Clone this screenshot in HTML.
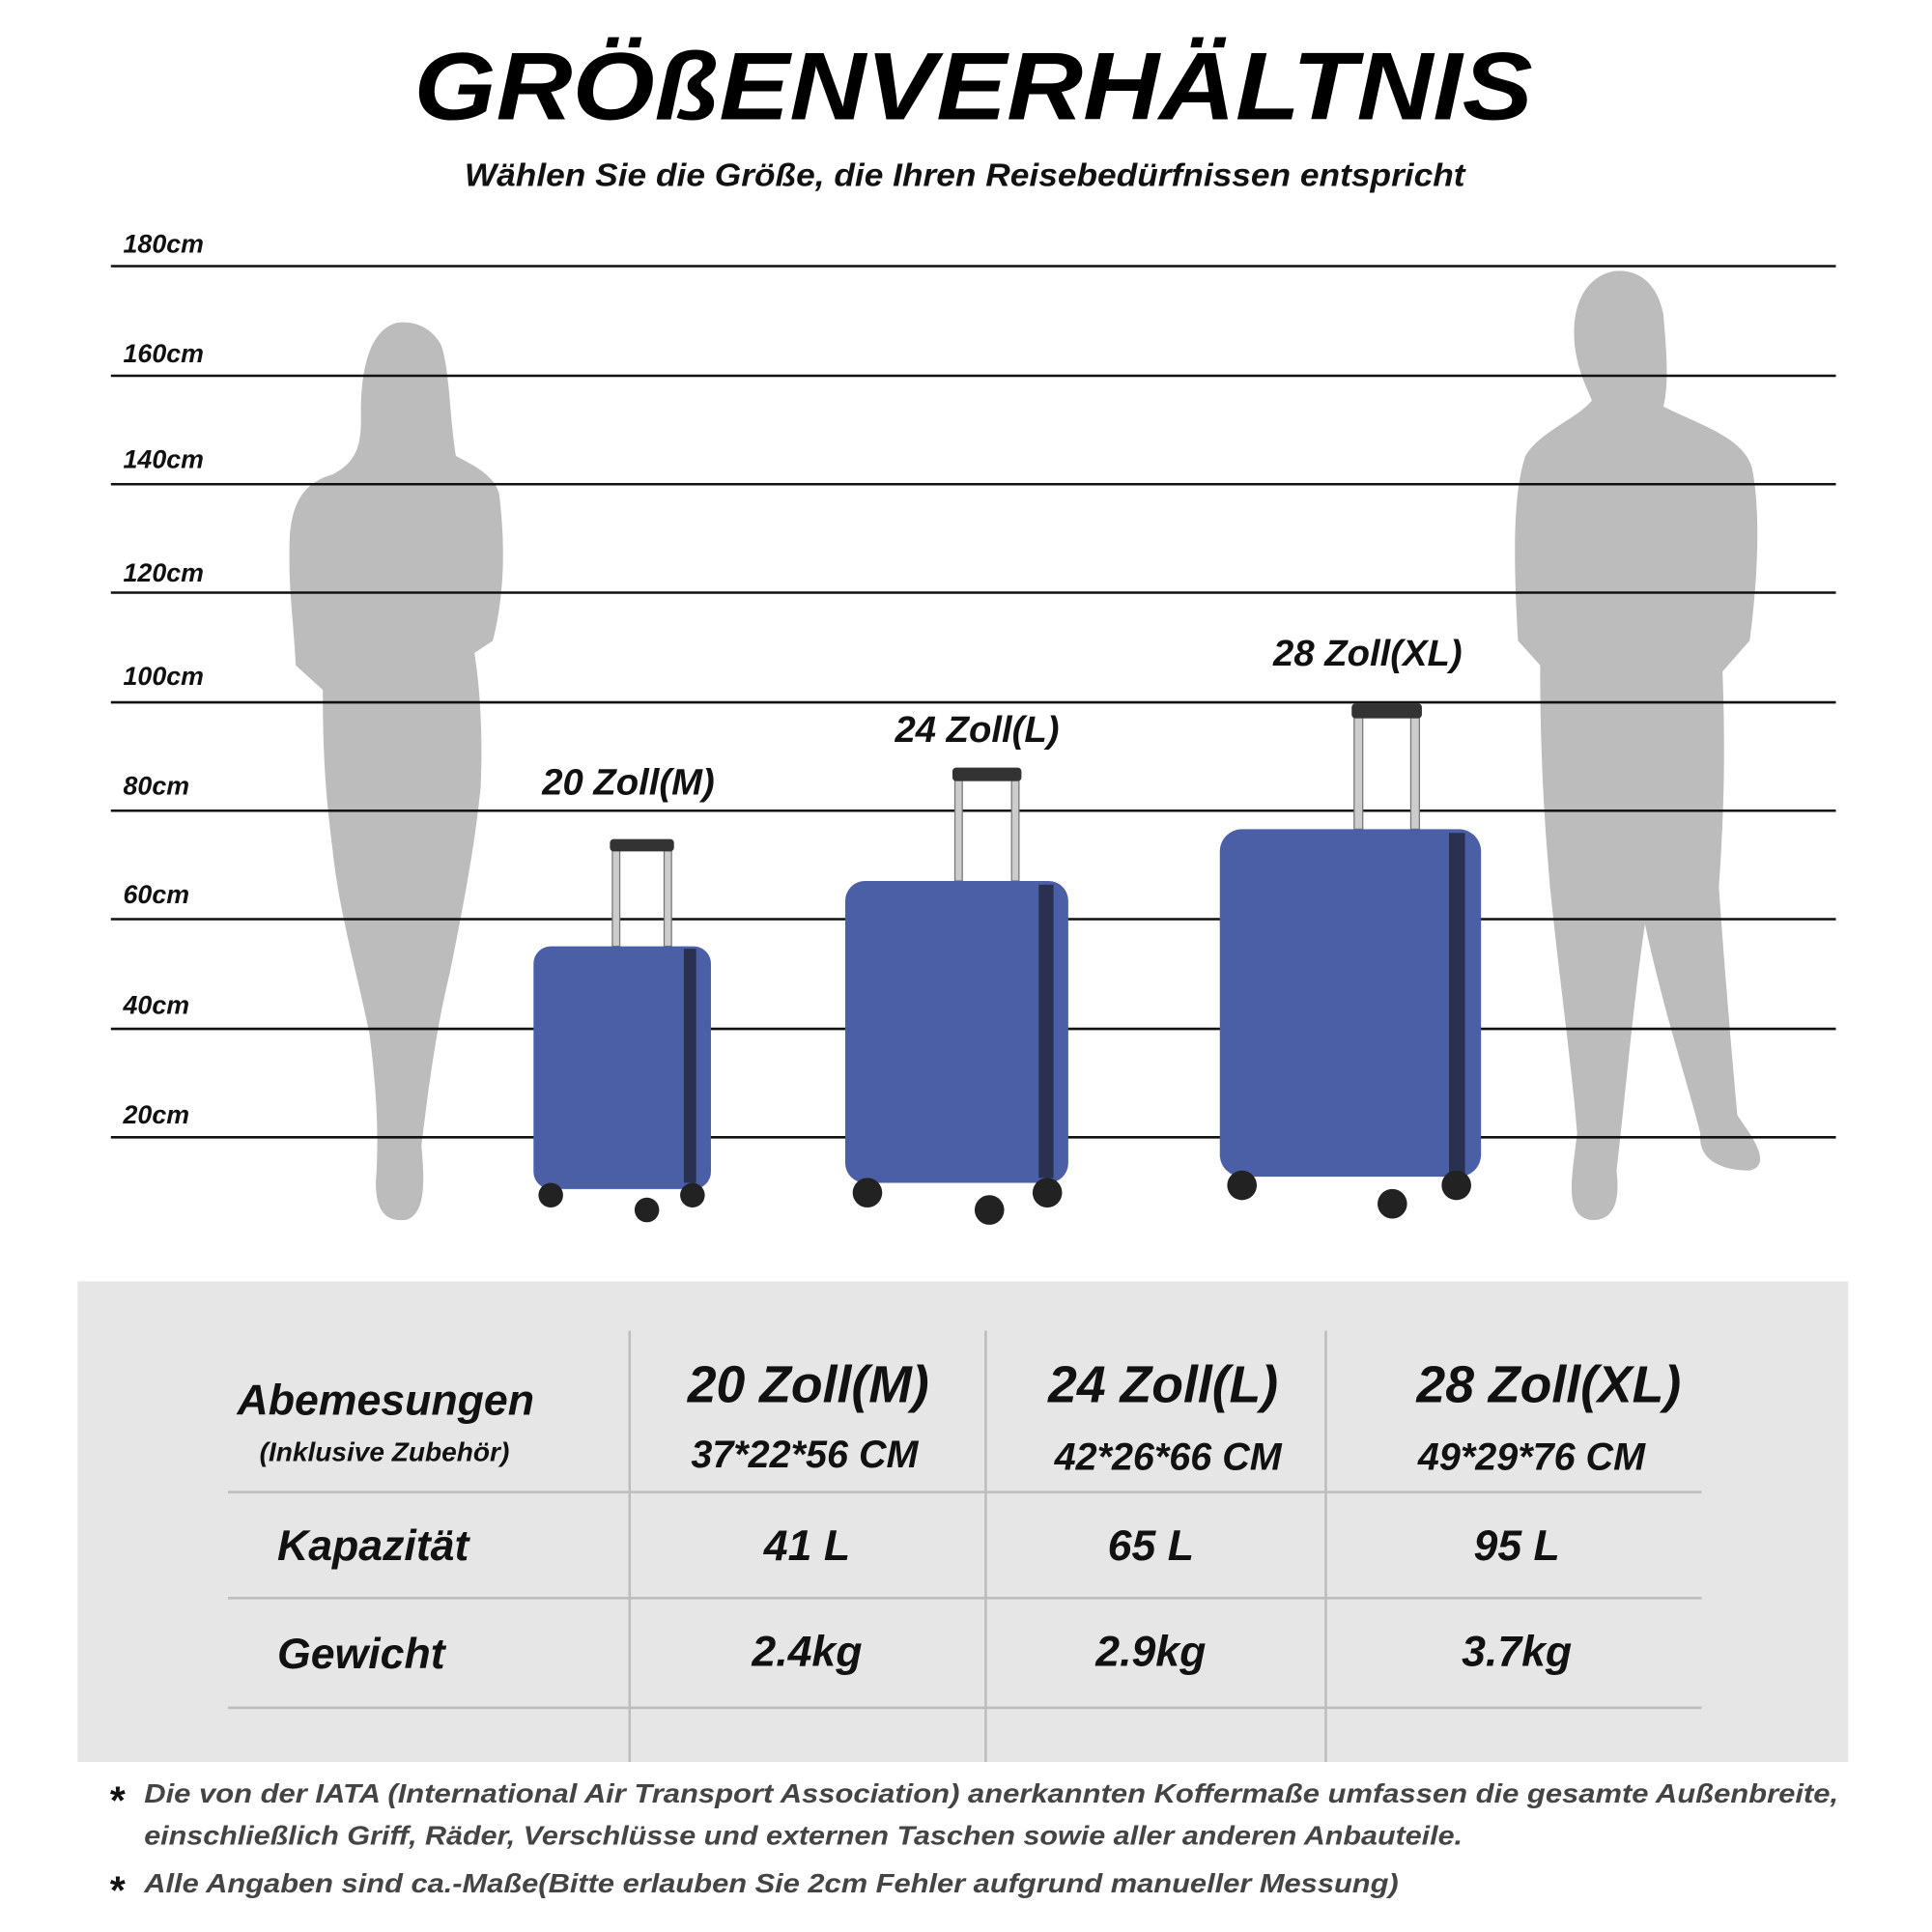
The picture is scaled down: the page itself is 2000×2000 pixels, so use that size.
<!DOCTYPE html>
<html><head><meta charset="utf-8"><style>
html,body{margin:0;padding:0;background:#fff}
svg{display:block}
text{font-family:"Liberation Sans",sans-serif;font-weight:bold;font-style:italic}
</style></head><body>
<svg width="2000" height="2000" viewBox="0 0 1568 1568" xmlns="http://www.w3.org/2000/svg">
<rect width="1568" height="1568" fill="#fff"/>
<text x="790" y="97" font-size="78" text-anchor="middle" textLength="908" lengthAdjust="spacingAndGlyphs" fill="#000">GRÖßENVERHÄLTNIS</text>
<text x="783" y="151" font-size="26" text-anchor="middle" textLength="812" lengthAdjust="spacingAndGlyphs" fill="#111">Wählen Sie die Größe, die Ihren Reisebedürfnissen entspricht</text>

<path fill="#bcbcbc" d="M322,262 C300,268 292,300 293,340 C293,360 290,375 270,385 C245,392 236,410 235,440 C234,480 238,500 240,540 L262,560 C262,620 265,650 270,690 C275,740 290,790 300,840 C305,880 308,920 305,960 C305,985 315,992 330,990 C345,985 345,960 342,930 C348,880 355,830 365,790 C375,740 385,690 390,640 C392,600 390,560 385,530 L400,520 C410,480 410,440 405,400 C400,385 385,378 370,370 C365,340 365,300 358,280 C350,265 335,260 322,262Z"/>
<path fill="#bcbcbc" d="M1310,220 C1285,225 1275,250 1278,280 C1280,300 1288,315 1292,325 C1280,340 1250,350 1238,370 C1228,400 1228,450 1232,520 L1250,540 C1250,600 1252,650 1258,720 C1265,790 1275,860 1280,920 C1275,960 1270,985 1290,990 C1310,992 1315,975 1312,950 C1320,880 1325,820 1335,750 C1350,820 1370,880 1380,920 C1378,940 1395,950 1420,950 C1440,945 1420,920 1410,905 C1405,850 1400,790 1395,720 C1400,650 1400,600 1398,545 L1420,520 C1428,460 1428,410 1422,380 C1415,355 1380,345 1350,330 C1355,310 1352,280 1350,255 C1345,230 1330,218 1310,220Z"/>

<g stroke="#111" stroke-width="2">
<line x1="90" y1="216" x2="1490" y2="216"/><line x1="90" y1="305" x2="1490" y2="305"/>
<line x1="90" y1="393" x2="1490" y2="393"/><line x1="90" y1="481" x2="1490" y2="481"/>
<line x1="90" y1="570" x2="1490" y2="570"/><line x1="90" y1="658" x2="1490" y2="658"/>
<line x1="90" y1="746" x2="1490" y2="746"/><line x1="90" y1="835" x2="1490" y2="835"/>
<line x1="90" y1="923" x2="1490" y2="923"/>
</g>
<g font-size="21" fill="#111">
<text x="100" y="205">180cm</text><text x="100" y="294">160cm</text><text x="100" y="380">140cm</text>
<text x="100" y="472">120cm</text><text x="100" y="556">100cm</text><text x="100" y="645">80cm</text>
<text x="100" y="733">60cm</text><text x="100" y="823">40cm</text><text x="100" y="912">20cm</text>
</g>

<g>
<rect x="497" y="683" width="6" height="85" fill="#ccc" stroke="#777"/><rect x="539" y="683" width="6" height="85" fill="#ccc" stroke="#777"/>
<rect x="495" y="681" width="52" height="10" rx="3" fill="#333"/>
<rect x="433" y="768" width="144" height="197" rx="14" fill="#4b5fa6"/>
<rect x="555" y="770" width="10" height="190" fill="#2a3050"/>
<circle cx="447" cy="970" r="10" fill="#222"/><circle cx="562" cy="970" r="10" fill="#222"/><circle cx="525" cy="982" r="10" fill="#222"/>

<rect x="775" y="626" width="6" height="89" fill="#ccc" stroke="#777"/><rect x="821" y="626" width="6" height="89" fill="#ccc" stroke="#777"/>
<rect x="773" y="623" width="56" height="11" rx="3" fill="#333"/>
<rect x="686" y="715" width="181" height="245" rx="16" fill="#4b5fa6"/>
<rect x="843" y="718" width="12" height="238" fill="#2a3050"/>
<circle cx="704" cy="968" r="12" fill="#222"/><circle cx="850" cy="968" r="12" fill="#222"/><circle cx="803" cy="982" r="12" fill="#222"/>

<rect x="1099" y="573" width="7" height="100" fill="#ccc" stroke="#777"/><rect x="1145" y="573" width="7" height="100" fill="#ccc" stroke="#777"/>
<rect x="1097" y="571" width="57" height="12" rx="3" fill="#333"/>
<rect x="990" y="673" width="212" height="282" rx="18" fill="#4b5fa6"/>
<rect x="1176" y="676" width="13" height="276" fill="#2a3050"/>
<circle cx="1008" cy="962" r="12" fill="#222"/><circle cx="1182" cy="962" r="12" fill="#222"/><circle cx="1130" cy="977" r="12" fill="#222"/>
</g>
<g font-size="30" fill="#111" text-anchor="middle">
<text x="510" y="645">20 Zoll(M)</text><text x="793" y="602">24 Zoll(L)</text><text x="1110" y="540">28 Zoll(XL)</text>
</g>

<rect x="63" y="1040" width="1437" height="390" fill="#e6e6e6"/>
<g stroke="#bdbdbd" stroke-width="2">
<line x1="511" y1="1080" x2="511" y2="1430"/><line x1="800" y1="1080" x2="800" y2="1430"/><line x1="1076" y1="1080" x2="1076" y2="1430"/>
<line x1="185" y1="1211" x2="1381" y2="1211"/><line x1="185" y1="1297" x2="1381" y2="1297"/><line x1="185" y1="1386" x2="1381" y2="1386"/>
</g>
<g fill="#111">
<text x="313" y="1148" font-size="35" text-anchor="middle">Abemesungen</text>
<text x="312" y="1186" font-size="22" text-anchor="middle">(Inklusive Zubehör)</text>
<text x="225" y="1266" font-size="35">Kapazität</text>
<text x="225" y="1354" font-size="35">Gewicht</text>
<g text-anchor="middle">
<text x="656" y="1138" font-size="42">20 Zoll(M)</text><text x="944" y="1138" font-size="42">24 Zoll(L)</text><text x="1257" y="1138" font-size="42">28 Zoll(XL)</text>
<text x="653" y="1191" font-size="31">37*22*56 CM</text><text x="948" y="1193" font-size="31">42*26*66 CM</text><text x="1243" y="1193" font-size="31">49*29*76 CM</text>
<text x="655" y="1266" font-size="35">41 L</text><text x="934" y="1266" font-size="35">65 L</text><text x="1231" y="1266" font-size="35">95 L</text>
<text x="655" y="1352" font-size="35">2.4kg</text><text x="934" y="1352" font-size="35">2.9kg</text><text x="1231" y="1352" font-size="35">3.7kg</text>
</g>
</g>
<g fill="#444" font-size="22">
<text x="88" y="1472" fill="#111" font-size="32" font-style="normal">*</text>
<text x="117" y="1463" textLength="1375" lengthAdjust="spacingAndGlyphs">Die von der IATA (International Air Transport Association) anerkannten Koffermaße umfassen die gesamte Außenbreite,</text>
<text x="117" y="1497" textLength="1070" lengthAdjust="spacingAndGlyphs">einschließlich Griff, Räder, Verschlüsse und externen Taschen sowie aller anderen Anbauteile.</text>
<text x="88" y="1545" fill="#111" font-size="32" font-style="normal">*</text>
<text x="117" y="1536" textLength="1018" lengthAdjust="spacingAndGlyphs">Alle Angaben sind ca.-Maße(Bitte erlauben Sie 2cm Fehler aufgrund manueller Messung)</text>
</g>
</svg>
</body></html>
